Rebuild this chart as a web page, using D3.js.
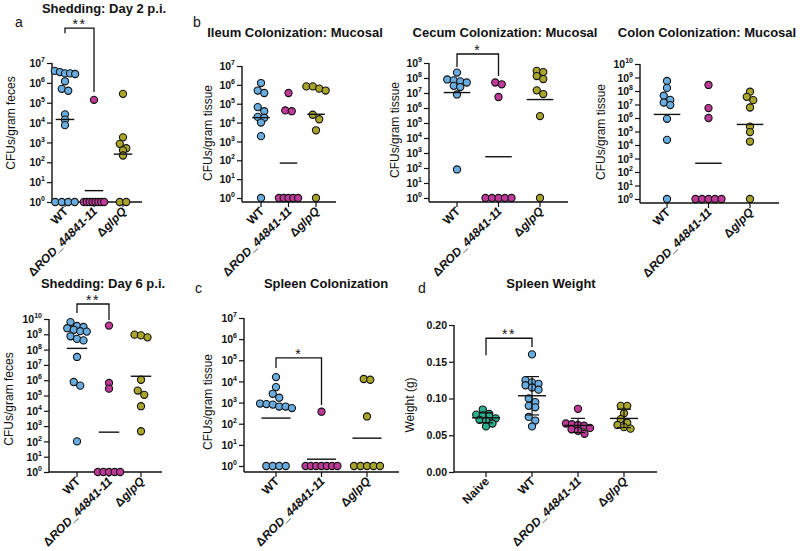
<!DOCTYPE html>
<html><head><meta charset="utf-8">
<script src="https://cdn.jsdelivr.net/npm/d3@7"></script>
<style>
body{margin:0;background:#fff}
text{font-family:"Liberation Sans",Arial,Helvetica,sans-serif;fill:#111}
</style>
</head><body>
<svg id="chart" width="800" height="551"></svg>
<script>
// ---------------- DATA ----------------
const strains = ["WT", "ΔROD_44841-11", "ΔglpQ"];
const weightGroups = ["Naive", "WT", "ΔROD_44841-11", "ΔglpQ"];

// CFU values; samples below detection are plotted at 10^0
const day2_WT   = [4e6, 3.5e6, 3e6, 3e6, 2.8e6, 1.2e6, 5e5, 4e5, 2.6e4, 1.4e4, 7.4e3, 1, 1, 1, 1];
const day2_ROD  = [1.4e5, 1, 1, 1, 1, 1, 1, 1, 1];
const day2_glpQ = [2.8e5, 1.8e3, 850, 510, 400, 220, 1, 1];

const ileum_WT   = [1.25e6, 5e5, 3.7e5, 6.6e4, 4e4, 2e4, 1.8e4, 1e4, 1.9e3, 1];
const ileum_ROD  = [3.7e5, 4.4e4, 4e4, 1, 1, 1, 1, 1];
const ileum_glpQ = [8.3e5, 8.3e5, 6.3e5, 5e5, 2.6e4, 1.5e4, 3.9e3, 1];

const cecum_WT   = [2.3e8, 8e7, 7e7, 6e7, 5e7, 3e7, 2.5e7, 8e6, 80];
const cecum_ROD  = [5e7, 3.8e7, 5.4e6, 1, 1, 1, 1, 1];
const cecum_glpQ = [3e8, 2.5e8, 1.35e8, 8.5e7, 1.5e7, 8.5e6, 2.9e5, 1];

const colon_WT   = [5.5e8, 1.7e8, 4.5e7, 2.2e7, 1.4e7, 9e6, 8.7e5, 2.4e4, 1];
const colon_ROD  = [2.8e8, 5.4e6, 1e6, 1, 1, 1, 1, 1];
const colon_glpQ = [8.9e7, 3.7e7, 2.1e7, 6e6, 2.3e5, 9e4, 1.8e4, 1];

const day6_WT   = [6.3e9, 3.5e9, 3e9, 2.5e9, 2e9, 1.6e9, 1.5e9, 7.4e8, 5e8, 4e8, 3.3e7, 7.6e5, 4.4e5, 100];
const day6_ROD  = [3.7e9, 6.6e5, 2.8e5, 1, 1, 1, 1, 1];
const day6_glpQ = [9.5e8, 8.5e8, 6.3e8, 1.07e6, 2.1e5, 1.1e5, 2e4, 460];

const spleen_WT   = [1.6e4, 5.4e3, 2.6e3, 1.7e3, 900, 850, 800, 650, 650, 550, 1, 1, 1, 1];
const spleen_ROD  = [370, 1, 1, 1, 1, 1, 1, 1];
const spleen_glpQ = [1.3e4, 1.2e4, 220, 1, 1, 1, 1, 1];

// spleen weight (g)
const weight_Naive = [0.085, 0.079, 0.078, 0.077, 0.076, 0.073, 0.071, 0.070, 0.066, 0.062];
const weight_WT    = [0.160, 0.125, 0.122, 0.120, 0.118, 0.115, 0.112, 0.100, 0.095, 0.090, 0.088, 0.075, 0.070, 0.062];
const weight_ROD   = [0.086, 0.066, 0.065, 0.064, 0.063, 0.060, 0.058, 0.056, 0.052];
const weight_glpQ  = [0.090, 0.090, 0.080, 0.072, 0.067, 0.064, 0.061, 0.059];
const weightTicks  = [0, 0.05, 0.10, 0.15, 0.20];

// ---------------- STYLE / LAYOUT ----------------
const COLORS = {"Naive": "#2bae8c", "WT": "#68ace0", "ΔROD_44841-11": "#bf3a98", "ΔglpQ": "#a9a52b"};
const R = 3.6;
const svg = d3.select("#chart");

const logPanels = [
  {letter: "a", title: "Shedding: Day 2 p.i.", yLabel: "CFUs/gram feces", data: [day2_WT, day2_ROD, day2_glpQ], maxExp: 7,
   L: {axisX: 52, xEnd: 142, cat0: 65, cat1: 123, y0: 202, yTop: 63, baseY: 202, tX: 104, tY: 13, labX: 11, labY: 123, letX: 15, letY: 27},
   bracket: {a: 0, b: 1, top: 8.76, endA: 8.5, endB: 5.54, label: "**"}},
  {letter: "b", title: "Ileum Colonization: Mucosal", yLabel: "CFUs/gram tissue", data: [ileum_WT, ileum_ROD, ileum_glpQ], maxExp: 7,
   L: {axisX: 242, xEnd: 336, cat0: 261, cat1: 316, y0: 198, yTop: 66, baseY: 202, tX: 295, tY: 37, labX: 208, labY: 133, letX: 193, letY: 27}},
  {title: "Cecum Colonization: Mucosal", yLabel: "CFUs/gram tissue", data: [cecum_WT, cecum_ROD, cecum_glpQ], maxExp: 9,
   L: {axisX: 429, xEnd: 568, cat0: 457, cat1: 540, y0: 198, yTop: 63, baseY: 202, tX: 505, tY: 37, labX: 395, labY: 130},
   bracket: {a: 0, b: 1, top: 9.6, endA: 8.73, endB: 8.13, label: "*"}},
  {title: "Colon Colonization: Mucosal", yLabel: "CFUs/gram tissue", data: [colon_WT, colon_ROD, colon_glpQ], maxExp: 10,
   L: {axisX: 640, xEnd: 779, cat0: 667, cat1: 750, y0: 199, yTop: 64, baseY: 203, tX: 707, tY: 37, labX: 601, labY: 132}},
  {title: "Shedding: Day 6 p.i.", yLabel: "CFUs/gram feces", data: [day6_WT, day6_ROD, day6_glpQ], maxExp: 10,
   L: {axisX: 49, xEnd: 162, cat0: 77, cat1: 141, y0: 472, yTop: 319, baseY: 472, tX: 103, tY: 288, labX: 9, labY: 399},
   bracket: {a: 0, b: 1, top: 10.98, endA: 10.39, endB: 9.93, label: "**"}},
  {letter: "c", title: "Spleen Colonization", yLabel: "CFUs/gram tissue", data: [spleen_WT, spleen_ROD, spleen_glpQ], maxExp: 7,
   L: {axisX: 244, xEnd: 399, cat0: 276, cat1: 367, y0: 466, yTop: 318, baseY: 472, tX: 326, tY: 288, labX: 208, labY: 402, letX: 195, letY: 293},
   bracket: {a: 0, b: 1, top: 5.11, endA: 4.64, endB: 2.89, label: "*"}}
];

function swarm(values, y, cx, step) {
  const pts = values.map(v => ({v, y: y(v)})).sort((a, b) => a.y - b.y);
  const rows = [];
  pts.forEach(p => {
    const r = rows[rows.length - 1];
    if (r && p.y - r[0].y < 5) r.push(p); else rows.push([p]);
  });
  const maxW = step * 0.7;
  rows.forEach(r => {
    const n = r.length;
    const d = n > 1 ? Math.min(6.5, maxW / (n - 1)) : 0;
    r.forEach((p, i) => p.x = cx + (i - (n - 1) / 2) * d);
  });
  return pts;
}

function catLabel(g, name) {
  const t = g.append("text").attr("text-anchor", "end").attr("font-weight", "bold").attr("font-size", 12);
  if (name.startsWith("Δ")) {
    t.append("tspan").text("Δ");
    t.append("tspan").attr("font-style", "italic").text(name.slice(1));
  } else t.text(name);
  return t;
}

function commonFrame(p, x, cats) {
  const L = p.L;
  const g = svg.append("g");
  g.append("line").attr("x1", L.axisX).attr("x2", L.xEnd).attr("y1", L.baseY).attr("y2", L.baseY)
    .attr("stroke", "#111").attr("stroke-width", 1.4);
  g.append("line").attr("x1", L.axisX).attr("x2", L.axisX).attr("y1", L.yTop).attr("y2", L.baseY)
    .attr("stroke", "#111").attr("stroke-width", 1.4);
  cats.forEach(c => {
    g.append("line").attr("x1", x(c)).attr("x2", x(c)).attr("y1", L.baseY).attr("y2", L.baseY + 5)
      .attr("stroke", "#111").attr("stroke-width", 1.2);
    const t = catLabel(g, c);
    t.attr("transform", `translate(${x(c) + 4},${L.baseY + 10}) rotate(-45)`);
  });
  g.append("text").attr("x", L.tX).attr("y", L.tY).attr("text-anchor", "middle")
    .attr("font-weight", "bold").attr("font-size", 13).text(p.title);
  g.append("text").attr("transform", `translate(${L.labX},${L.labY}) rotate(-90)`).attr("text-anchor", "middle")
    .attr("dy", "0.35em").attr("font-size", 12).text(p.yLabel);
  if (p.letter) g.append("text").attr("x", L.letX).attr("y", L.letY).attr("font-size", 14).text(p.letter);
  return g;
}

function drawBracket(g, x1, x2, yTop, yA, yB, label) {
  g.append("path").attr("d", `M${x1},${yA}V${yTop}H${x2}V${yB}`).attr("fill", "none")
    .attr("stroke", "#111").attr("stroke-width", 1.3);
  g.append("text").attr("x", (x1 + x2) / 2).attr("y", yTop + 1).attr("text-anchor", "middle")
    .attr("font-size", 14).attr("letter-spacing", 1.5).text(label);
}

logPanels.forEach(p => {
  const L = p.L;
  const y = d3.scaleLog().domain([1, Math.pow(10, p.maxExp)]).range([L.y0, L.yTop]);
  const x = d3.scalePoint().domain(strains).range([L.cat0, L.cat1]);
  const step = x.step();
  const g = commonFrame(p, x, strains);
  const exps = d3.range(0, p.maxExp + 1);
  const ax = g.append("g").attr("transform", `translate(${L.axisX},0)`)
    .call(d3.axisLeft(y).tickValues(exps.map(e => Math.pow(10, e))).tickSize(5).tickSizeOuter(0).tickFormat(""));
  ax.select(".domain").remove();
  ax.selectAll(".tick line").attr("stroke", "#111").attr("stroke-width", 1.2);
  ax.selectAll(".tick").each(function(d) {
    const e = Math.round(Math.log10(d));
    const t = d3.select(this).append("text").attr("x", -7).attr("dy", "0.35em").attr("text-anchor", "end")
      .attr("font-weight", "bold").attr("font-size", 10.5).attr("fill", "#111");
    t.append("tspan").text("10");
    t.append("tspan").attr("font-size", 7).attr("dy", -5).text(e);
  });
  strains.forEach((s, i) => {
    const pts = swarm(p.data[i], y, x(s), step);
    g.selectAll(null).data(pts).enter().append("circle")
      .attr("cx", d => d.x).attr("cy", d => d.y).attr("r", R)
      .attr("fill", COLORS[s]).attr("stroke", "#111").attr("stroke-width", 1.1);
    const gm = Math.pow(10, d3.mean(p.data[i], v => Math.log10(v)));
    const hw = step * 0.32;
    g.append("line").attr("x1", x(s) - hw).attr("x2", x(s) + hw).attr("y1", y(gm)).attr("y2", y(gm))
      .attr("stroke", "#111").attr("stroke-width", 1.4);
  });
  if (p.bracket) {
    const b = p.bracket;
    drawBracket(g, x(strains[b.a]), x(strains[b.b]), y(Math.pow(10, b.top)), y(Math.pow(10, b.endA)), y(Math.pow(10, b.endB)), b.label);
  }
});

// ---------------- Spleen weight (d) ----------------
(function() {
  const p = {letter: "d", title: "Spleen Weight", yLabel: "Weight (g)",
    L: {axisX: 454, xEnd: 657, cat0: 486, cat1: 624, y0: 472, yTop: 325, baseY: 472, tX: 551, tY: 288, labX: 410, labY: 405, letX: 418, letY: 293}};
  const data = [weight_Naive, weight_WT, weight_ROD, weight_glpQ];
  const L = p.L;
  const y = d3.scaleLinear().domain([0, 0.2]).range([L.y0, L.yTop]);
  const x = d3.scalePoint().domain(weightGroups).range([L.cat0, L.cat1]);
  const step = x.step();
  const g = commonFrame(p, x, weightGroups);
  const ax = g.append("g").attr("transform", `translate(${L.axisX},0)`)
    .call(d3.axisLeft(y).tickValues(weightTicks).tickSize(5).tickSizeOuter(0).tickFormat(d3.format(".2f")));
  ax.select(".domain").remove();
  ax.selectAll(".tick line").attr("stroke", "#111").attr("stroke-width", 1.2);
  ax.selectAll(".tick text").attr("x", -7).attr("font-weight", "bold").attr("font-size", 10.5)
    .attr("fill", "#111").attr("font-family", "Liberation Sans, Arial, sans-serif");
  weightGroups.forEach((s, i) => {
    const pts = swarm(data[i], y, x(s), step * 0.75);
    g.selectAll(null).data(pts).enter().append("circle")
      .attr("cx", d => d.x).attr("cy", d => d.y).attr("r", R)
      .attr("fill", COLORS[s]).attr("stroke", "#111").attr("stroke-width", 1.1);
    const m = d3.mean(data[i]), sd = d3.deviation(data[i]);
    const cx = x(s), hw = 14, cw = 7;
    g.append("line").attr("x1", cx - hw).attr("x2", cx + hw).attr("y1", y(m)).attr("y2", y(m)).attr("stroke", "#111").attr("stroke-width", 1.4);
    g.append("line").attr("x1", cx).attr("x2", cx).attr("y1", y(m - sd)).attr("y2", y(m + sd)).attr("stroke", "#111").attr("stroke-width", 1.2);
    [m - sd, m + sd].forEach(v => g.append("line").attr("x1", cx - cw).attr("x2", cx + cw).attr("y1", y(v)).attr("y2", y(v)).attr("stroke", "#111").attr("stroke-width", 1.2));
  });
  drawBracket(g, x("Naive"), x("WT"), y(0.182), y(0.159), y(0.170), "**");
})();
</script>
</body></html>
